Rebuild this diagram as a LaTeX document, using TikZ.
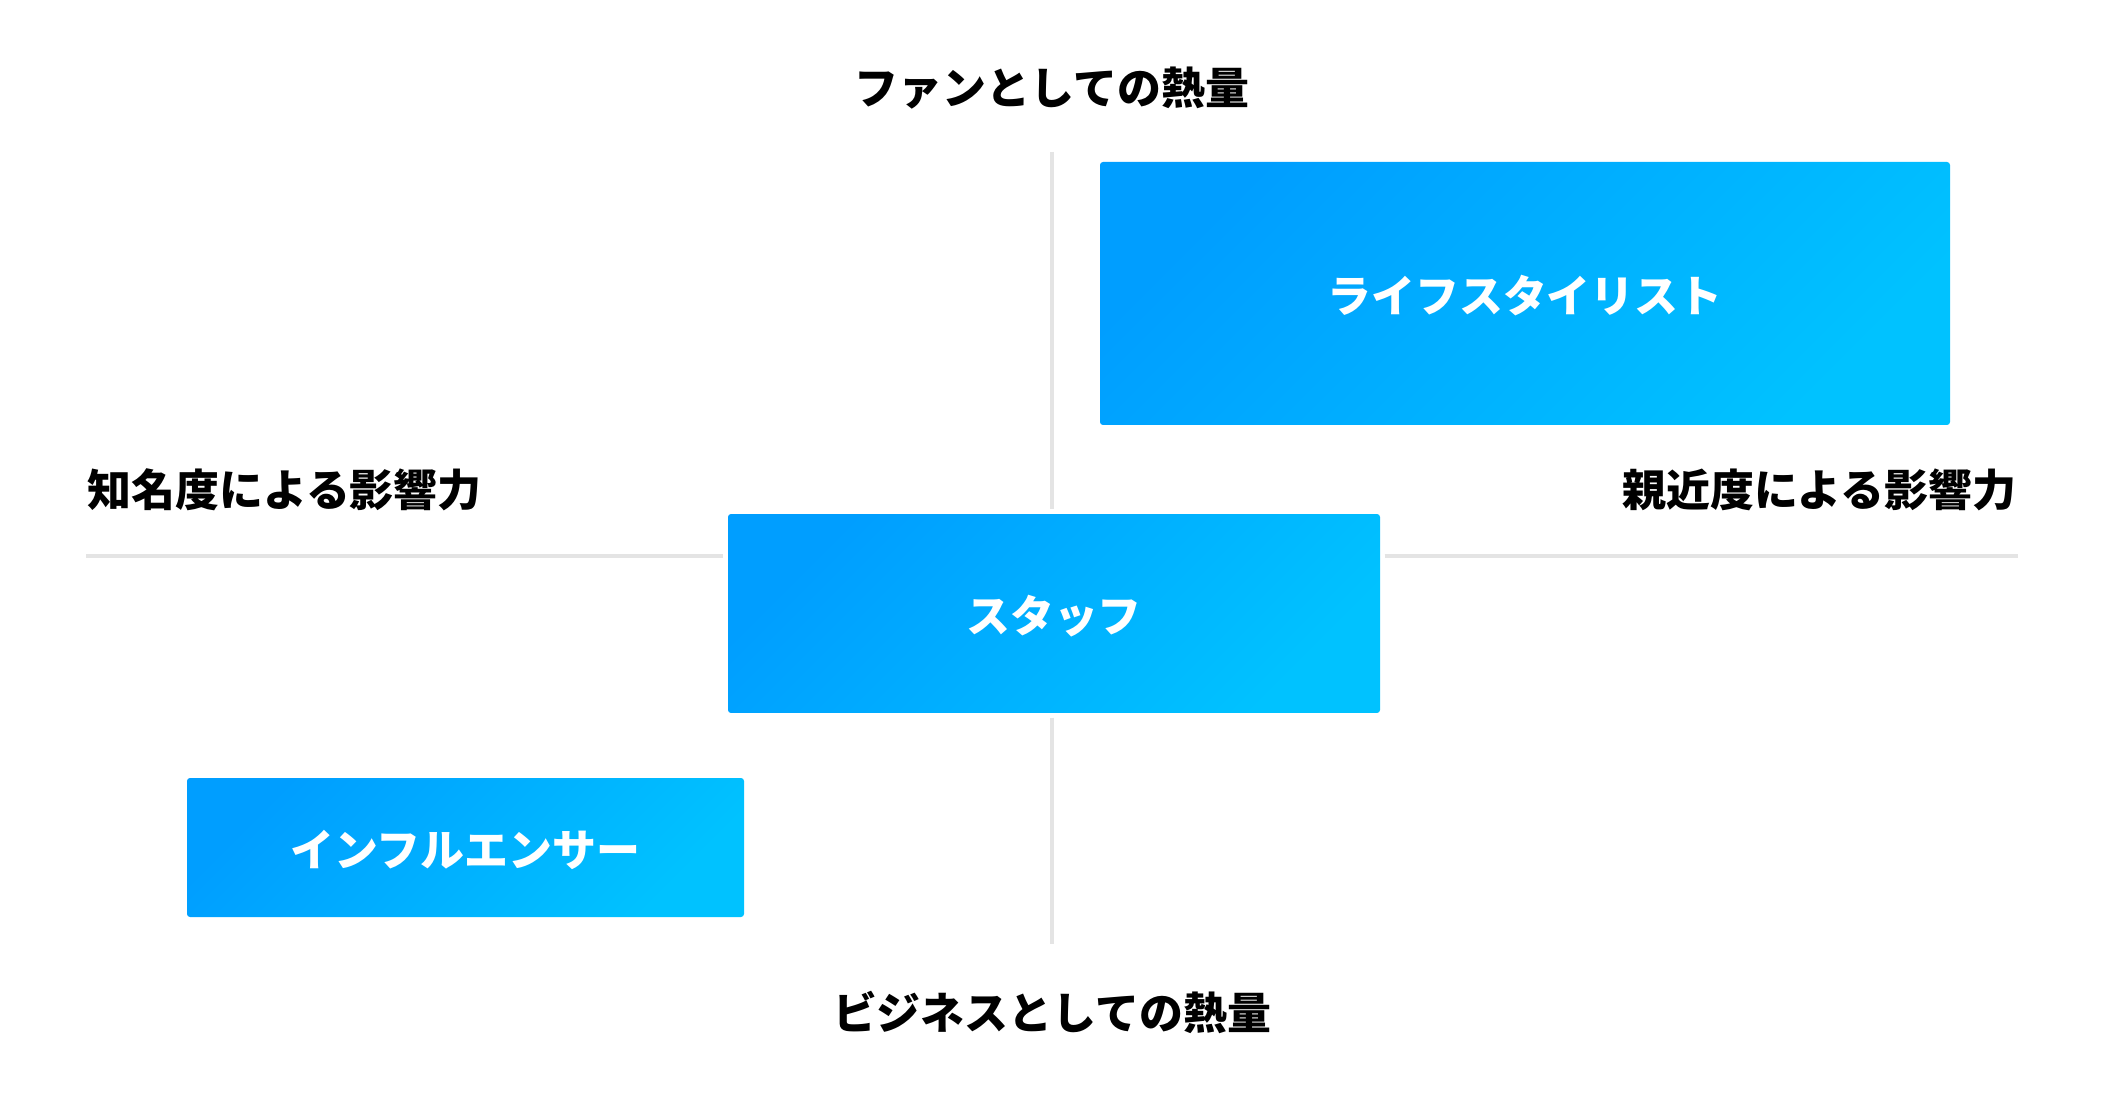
\documentclass[tikz,border=0pt]{standalone}
\usepackage{fontspec}
\setmainfont{Noto Sans CJK JP}
\usetikzlibrary{positioning}
\definecolor{axisgray}{RGB}{228,228,228}
\definecolor{boxtl}{RGB}{0,158,255}
\definecolor{boxbr}{RGB}{0,194,255}
\tikzset{
  axisline/.style={draw=axisgray, line width=0.4mm},
  quadbox/.style={top color=boxtl, bottom color=boxbr, shading angle=45,
                  rounded corners=0.3mm, inner sep=0pt, text=white,
                  text height=1.2em, text depth=0.1em,
                  font=\fontsize{12.5pt}{14pt}\selectfont\bfseries},
  axislabel/.style={inner sep=0pt, text=black,
                    font=\fontsize{12.5pt}{14pt}\selectfont\bfseries},
}

\begin{document}
\begin{tikzpicture}[x=0.1mm, y=-0.1mm]
  \fill[white] (0,0) rectangle (2101,1096);
  \useasboundingbox (0,0) rectangle (2101,1096);
  % quadrant boxes
  \node[quadbox, minimum width=85mm, minimum height=26.3mm] (stylist) at (1525,293.5) {ライフスタイリスト};
  \node[quadbox, minimum width=65.2mm, minimum height=19.9mm] (staff) at (1054,613.5) {スタッフ};
  \node[quadbox, minimum width=55.7mm, minimum height=13.9mm] (infl) at (465.5,847.5) {インフルエンサー};
  % axis labels
  \node[axislabel] (fan) at (1052,88) {ファンとしての熱量};
  \node[axislabel] (biz) at (1052,1012) {ビジネスとしての熱量};
  \node[axislabel, anchor=west] (fame) at (87,490) {知名度による影響力};
  \node[axislabel, anchor=east] (close) at (2017,490) {親近度による影響力};
  % axes
  \coordinate (vtop) at (1052,152);
  \coordinate (vbot) at (1052,944);
  \coordinate (hleft) at (86,556.5);
  \coordinate (hright) at (2018,556.5);
  \draw[axisline] (vtop) -- ([yshift=0.4mm]vtop |- staff.north);
  \draw[axisline] ([yshift=-0.4mm]vbot |- staff.south) -- (vbot);
  \draw[axisline] (hleft) -- ([xshift=-0.4mm]hleft -| staff.west);
  \draw[axisline] ([xshift=0.4mm]hright -| staff.east) -- (hright);
\end{tikzpicture}
\end{document}
